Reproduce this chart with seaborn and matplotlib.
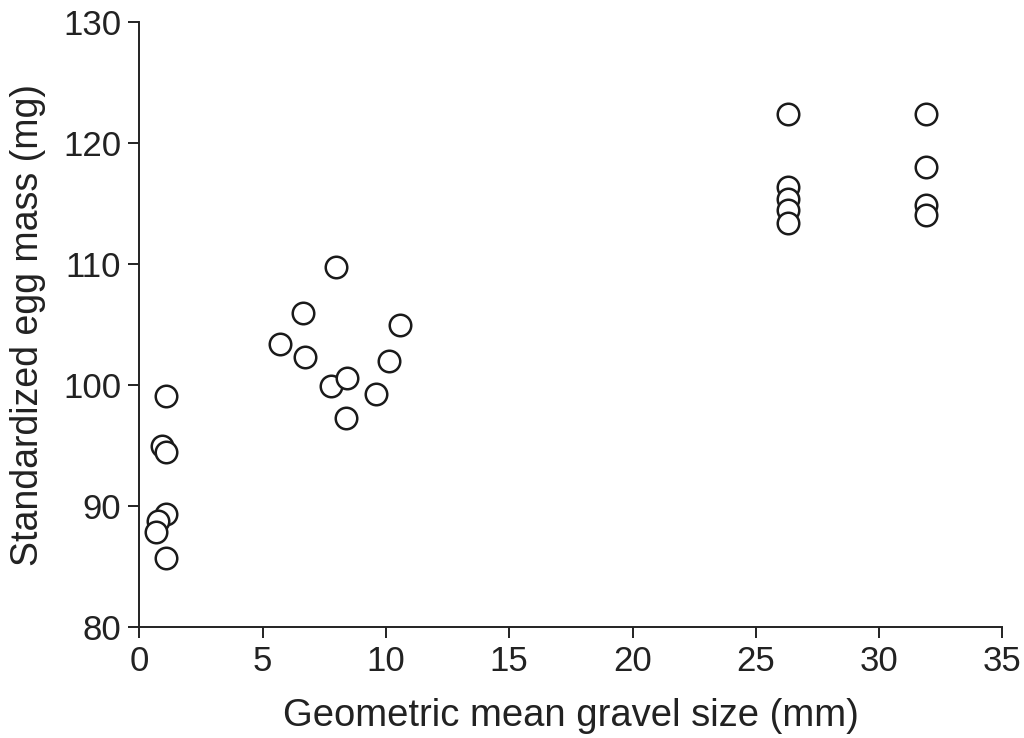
import numpy as np
import pandas as pd
import seaborn as sns
import matplotlib
matplotlib.use("Agg")
import matplotlib.pyplot as plt

# gravel size (mm) vs egg mass (mg)
gravel = [1.09, 0.93, 1.09, 1.09, 0.77, 0.69, 1.09,
          5.72, 6.65, 6.73, 7.99, 7.79, 8.43, 8.39, 9.61, 10.14, 10.58,
          26.32, 26.32, 26.32, 26.32, 26.32,
          31.9, 31.9, 31.9, 31.9]
egg_mass = [99.1, 95.0, 94.5, 89.4, 88.8, 87.9, 85.7,
            103.4, 106.0, 102.3, 109.8, 99.9, 100.6, 97.3, 99.3, 102.0, 105.0,
            122.4, 116.4, 115.4, 114.5, 113.4,
            122.4, 118.0, 114.9, 114.1]

df = pd.DataFrame({"gravel": gravel, "egg": egg_mass})

sns.set_style("ticks")
plt.rcParams['font.family'] = ['Liberation Sans', 'DejaVu Sans']

fig = plt.figure(figsize=(10.24, 7.38), dpi=100)
ax = fig.add_axes([0.136, 0.150, 0.843, 0.820])

sns.scatterplot(data=df, x="gravel", y="egg", ax=ax, s=240,
                facecolor="white", edgecolor="#1a1a1a", linewidth=1.8, zorder=3)

ax.set_xlim(0, 35)
ax.set_ylim(80, 130)
ax.set_xticks(range(0, 36, 5))
ax.set_yticks(range(80, 131, 10))
ax.tick_params(labelsize=25, length=8, width=1.4, pad=5,
               color="#222222", labelcolor="#222222")
for s in ["left", "bottom"]:
    ax.spines[s].set_linewidth(1.4)
    ax.spines[s].set_color("#222222")
sns.despine(ax=ax)

ax.set_xlabel("Geometric mean gravel size (mm)", fontsize=27.5, color="#222222", labelpad=14)
ax.set_ylabel("Standardized egg mass (mg)", fontsize=27, color="#222222", labelpad=12)

fig.savefig("out.png", dpi=100)
